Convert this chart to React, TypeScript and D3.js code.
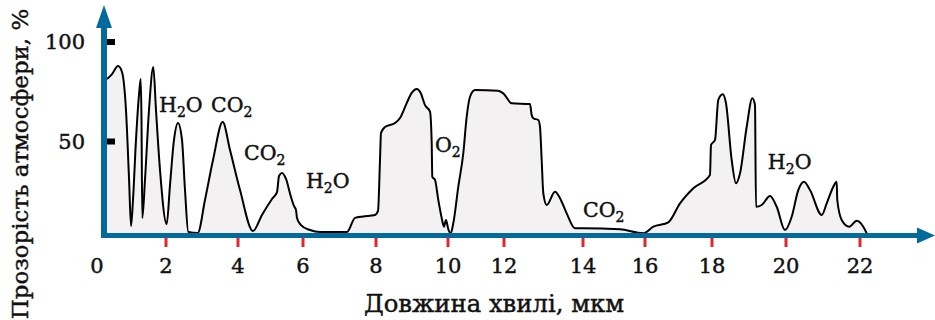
import * as React from 'react';
import * as d3 from 'd3';

// wavelength (µm) of each axis tick and its label
const tickValues = [0, 2, 4, 6, 8, 10, 12, 14, 16, 18, 20, 22];
// the printed axis is hand drawn and not evenly spaced: pixel position of each tick
const tickPx = [97, 166, 238, 303, 376, 448, 504, 583, 645, 712, 786, 860];

const yTicks = [50, 100];

// transmission curve: wavelength (µm) and transparency (%)
const wavelength = [
  0.29, 0.435, 0.61, 0.725, 0.84, 0.93, 0.986, 1.043, 1.13, 1.217, 1.267, 1.29, 1.313,
  1.391, 1.507, 1.632, 1.71, 1.826, 2.019, 2.111, 2.222, 2.333, 2.444, 2.528, 2.619,
  2.881, 3.083, 3.306, 3.575, 3.778, 4.062, 4.462, 4.738, 5.046, 5.2, 5.262, 5.354,
  5.477, 5.631, 5.723, 5.785, 5.815, 5.938, 6.192, 6.466, 7.205, 7.425, 7.644, 7.973,
  8.056, 8.111, 8.139, 8.25, 8.528, 8.667, 8.853, 8.992, 9.131, 9.242, 9.361, 9.5,
  9.547, 9.564, 9.639, 9.731, 9.825, 9.889, 9.944, 10.011, 10.096, 10.189, 10.368,
  10.546, 10.668, 10.786, 10.964, 11.786, 11.975, 12.195, 12.658, 12.701, 12.742,
  12.868, 12.911, 12.954, 12.995, 13.081, 13.291, 13.418, 13.587, 13.797, 14.01,
  15.194, 15.945, 16.248, 16.696, 17.045, 17.442, 17.94, 17.97, 18.081, 18.17, 18.289,
  18.378, 18.532, 18.649, 18.757, 18.938, 19.089, 19.162, 19.189, 19.343, 19.568,
  19.749, 19.973, 20.154, 20.332, 20.486, 20.649, 20.965, 21.1, 21.278, 21.37, 21.386,
  21.505, 21.711, 21.911, 22.089, 22.181,
];
const transparency = [
  81.4, 83.9, 87.9, 84.9, 65.8, 30.7, 7.5, 20.6, 50.8, 73.4, 81.4, 60.8, 11.6,
  30.7, 65.8, 87.4, 65.8, 35.7, 8.5, 28.1, 50.8, 59.3, 50.8, 25.6, 4.5,
  4.0, 20.6, 40.7, 59.8, 45.7, 25.6, 5.0, 13.1, 21.1, 24.6, 32.7, 34.2,
  31.2, 22.1, 17.6, 15.6, 11.6, 8.0, 5.5, 4.5, 4.5, 11.6, 12.3, 13.1,
  15.1, 40.7, 54.3, 57.3, 59.3, 61.8, 69.3, 74.4, 76.4, 74.4, 68.3, 65.0,
  49.2, 32.2, 30.7, 20.6, 11.6, 7.2, 10.6, 5.9, 3.9, 8.9, 27.3,
  44.1, 62.5, 72.5, 75.9, 75.5, 74.2, 69.2, 68.8, 63.3, 61.7,
  60.8, 57.4, 40.7, 24.0, 18.1, 24.8, 21.5, 13.9, 6.4, 6.4,
  5.9, 3.9, 7.2, 9.4, 18.9, 26.5, 33.2, 48.2, 50.8, 70.9, 73.7,
  69.2, 40.7, 29.0, 34.0, 57.4, 71.7, 68.3, 17.2, 18.1, 22.6,
  17.2, 5.5, 12.2, 25.6, 29.8, 25.6, 13.1, 18.9, 27.3, 29.8, 20.6,
  10.6, 7.2, 10.2, 7.2, 3.9,
];

// absorber annotations: formula parts, anchored at (wavelength, %)
const gasMain = ['H', 'C', 'C', 'H', 'O', 'C', 'H'];
const gasSub = ['2', 'O', 'O', '2', '2', 'O', '2'];
const gasTail = ['O', '2', '2', 'O', '', '2', 'O'];
const gasX = [1.797, 3.25, 4.185, 6.08, 9.64, 14.0, 19.51];
const gasY = [64.8, 64.8, 40.7, 26.6, 44.7, 12.1, 36.2];

const W = 935;
const H = 320;
const BLUE = '#046a9b';
const INK = '#111';
const FONT = '"DejaVu Serif", "Liberation Serif", serif';
// the printed font is heavier than DejaVu Serif regular
const heavy = { stroke: INK, strokeWidth: 0.45 };

const Formula: React.FC<{ x: number; y: number; main: string; sub: string; tail: string }> = ({ x, y, main, sub, tail }) => {
  const isCO = main === 'C';
  return (
    <text x={x} y={y} fontFamily={FONT} fontSize={20.5} fill={INK} {...heavy}>
      {isCO ? (
        <>
          <tspan>{main + sub}</tspan>
          <tspan fontSize={14} dy={5}>{tail}</tspan>
        </>
      ) : (
        <>
          <tspan>{main}</tspan>
          <tspan fontSize={14} dy={5}>{sub}</tspan>
          {tail && <tspan dy={-5}>{tail}</tspan>}
        </>
      )}
    </text>
  );
};

const App: React.FC = () => {
  const x = d3.scaleLinear().domain(tickValues).range(tickPx);
  const y = d3.scaleLinear().domain([0, 100]).range([241, 42]);

  const axisY = 235.5;
  const axisX = 104;

  const pts = wavelength.map((w, i) => [w, transparency[i]] as [number, number]);
  const line = d3.line<[number, number]>()
    .x(d => x(d[0]))
    .y(d => y(d[1]))
    .curve(d3.curveMonotoneX);
  const area = d3.area<[number, number]>()
    .x(d => x(d[0]))
    .y0(axisY - 2)
    .y1(d => y(d[1]))
    .curve(d3.curveMonotoneX);

  return (
    <svg width={W} height={H} style={{ position: 'absolute', left: 0, top: 0, background: '#fff' }}>
      <path d={area(pts) || undefined} fill="#f3f1f2" />
      <path d={line(pts) || undefined} fill="none" stroke="#000" strokeWidth={2} strokeLinejoin="round" />

      {/* red ticks under the x axis */}
      {tickValues.slice(1).map(t => (
        <rect key={t} x={x(t) - 1.5} y={238} width={3} height={9} fill="#e3262b" />
      ))}

      {/* axes with arrows */}
      <line x1={axisX} x2={axisX} y1={axisY + 2.5} y2={26} stroke={BLUE} strokeWidth={6} />
      <path d={`M${axisX},5 L${axisX + 8},28 L${axisX - 8},28 Z`} fill={BLUE} />
      <line x1={axisX - 3} x2={919} y1={axisY} y2={axisY} stroke={BLUE} strokeWidth={5} />
      <path d={`M935,${axisY} L917,${axisY - 8} L917,${axisY + 8} Z`} fill={BLUE} />

      {/* y ticks */}
      {yTicks.map(t => (
        <g key={t}>
          <rect x={107} y={y(t) - 3} width={8} height={6} fill="#000" />
          <text x={85} y={y(t) + 7} textAnchor="end" fontFamily={FONT} fontSize={21} fill={INK} {...heavy}>{t}</text>
        </g>
      ))}

      {tickValues.map(t => (
        <text key={t} x={x(t)} y={273} textAnchor="middle" fontFamily={FONT} fontSize={21} fill={INK} {...heavy}>{t}</text>
      ))}

      {gasMain.map((m, i) => (
        <Formula key={i} x={x(gasX[i])} y={y(gasY[i])} main={m} sub={gasSub[i]} tail={gasTail[i]} />
      ))}

      <text x={494} y={312} textAnchor="middle" fontFamily={FONT} fontSize={24.3} fill={INK} {...heavy}>Довжина хвилі, мкм</text>
      <text transform="translate(28,164) rotate(-90)" textAnchor="middle" fontFamily={FONT} fontSize={22.9} fill={INK} {...heavy}>
        Прозорість атмосфери, %
      </text>
    </svg>
  );
};

export default App;
